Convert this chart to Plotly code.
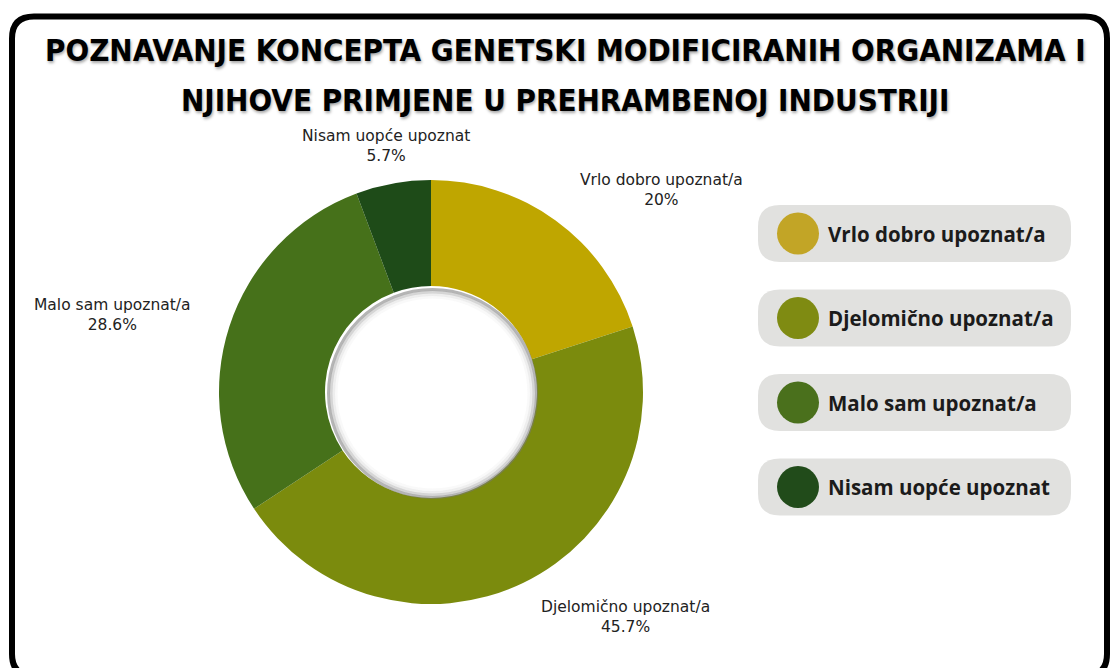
import math
import plotly.graph_objects as go

W, H = 1110, 668

title_lines = ["POZNAVANJE KONCEPTA GENETSKI MODIFICIRANIH ORGANIZAMA I",
               "NJIHOVE PRIMJENE U PREHRAMBENOJ INDUSTRIJI"]
categories = ["Vrlo dobro upoznat/a", "Djelomično upoznat/a", "Malo sam upoznat/a", "Nisam uopće upoznat"]
counts = [7, 16, 10, 2]
colors = ["#BFA600", "#7B8B0D", "#46711A", "#1E4B18"]
legend_colors = ["#C2A526", "#7F8B12", "#4A701C", "#214B1A"]

cx, cy, R = 431, 392, 212
hole = 0.5

fig = go.Figure()

fig.add_trace(go.Pie(
    labels=categories, values=counts, sort=False, direction="clockwise",
    hole=hole, marker=dict(colors=colors, line=dict(width=0)),
    textinfo="none", hoverinfo="label+percent", showlegend=False,
    domain=dict(x=[(cx - R) / W, (cx + R) / W], y=[(H - cy - R) / H, (H - cy + R) / H]),
))

# legend markers (scatter on pixel axes)
leg_y0, leg_dy = 233.5, 84.5
leg_ys = [leg_y0 + i * leg_dy for i in range(len(categories))]
fig.add_trace(go.Scatter(
    x=[798] * len(categories), y=leg_ys, mode="markers",
    marker=dict(size=42, color=legend_colors, line=dict(width=0)),
    hoverinfo="skip", showlegend=False,
))

shapes = []
annotations = []

def rrect(x0, y0, x1, y1, r):
    return (f"M{x0+r},{y0} L{x1-r},{y0} Q{x1},{y0} {x1},{y0+r} L{x1},{y1-r} "
            f"Q{x1},{y1} {x1-r},{y1} L{x0+r},{y1} Q{x0},{y1} {x0},{y1-r} "
            f"L{x0},{y0+r} Q{x0},{y0} {x0+r},{y0} Z")

# legend pills and text
for i, (cat, yy) in enumerate(zip(categories, leg_ys)):
    shapes.append(dict(type="path", xref="x", yref="y", layer="below",
                       path=rrect(758, yy - 28.5, 1071, yy + 28.5, 22),
                       fillcolor="#E1E1DF", line=dict(width=0)))
    annotations.append(dict(x=826, y=yy, xref="x", yref="y", text=cat, showarrow=False,
                            xanchor="left", yanchor="middle",
                            font=dict(family="Open Sans", size=20.5, color="#1B1B1B", weight=700)))

# hole inner shadow
for r, w, col in [(104, 3, "rgba(120,120,120,0.55)"), (101.5, 3, "rgba(165,165,165,0.45)"),
                  (99, 3, "rgba(205,205,205,0.35)"), (96.5, 3, "rgba(235,235,235,0.3)")]:
    shapes.append(dict(type="circle", xref="x", yref="y", layer="above",
                       x0=cx + 1.5 - r, x1=cx + 1.5 + r, y0=cy + 1.5 - r, y1=cy + 1.5 + r,
                       line=dict(color=col, width=w)))

# frame
shapes.append(dict(type="path", xref="x", yref="y", layer="above",
                   path=rrect(12, 16.5, 1107, 676, 22), line=dict(color="#000000", width=6)))

# slice labels
total = sum(counts)
cum = 0
for cat, v in zip(categories, counts):
    mid = (cum + v / 2) / total * 2 * math.pi
    cum += v
    lx = cx + 250 * math.sin(mid)
    ly = cy - 250 * math.cos(mid)
    s = math.sin(mid)
    xa = "left" if s > 0.3 else ("right" if s < -0.3 else "center")
    pct = f"{v / total * 100:.1f}".rstrip("0").rstrip(".") + "%"
    annotations.append(dict(x=lx, y=ly, xref="x", yref="y", text=f"{cat}<br>{pct}", showarrow=False,
                            xanchor=xa, yanchor="middle", align="center",
                            font=dict(family="DejaVu Sans", size=15.5, color="#222222")))

# title with soft shadow
for j, (line, ty) in enumerate(zip(title_lines, [50, 100])):
    annotations.append(dict(x=565, y=ty, xref="x", yref="y", text=line, showarrow=False,
                            xanchor="center", yanchor="middle",
                            font=dict(family="DejaVu Sans Condensed", size=31, color="#000000", weight=900,
                                      shadow="1px 2px 3px rgba(0,0,0,0.35)")))

fig.update_layout(
    width=W, height=H, margin=dict(l=0, r=0, t=0, b=0),
    paper_bgcolor="white", plot_bgcolor="rgba(0,0,0,0)",
    xaxis=dict(range=[0, W], visible=False, fixedrange=True, domain=[0, 1]),
    yaxis=dict(range=[H, 0], visible=False, fixedrange=True, domain=[0, 1]),
    shapes=shapes, annotations=annotations, showlegend=False,
)

fig.write_html("out.html")
